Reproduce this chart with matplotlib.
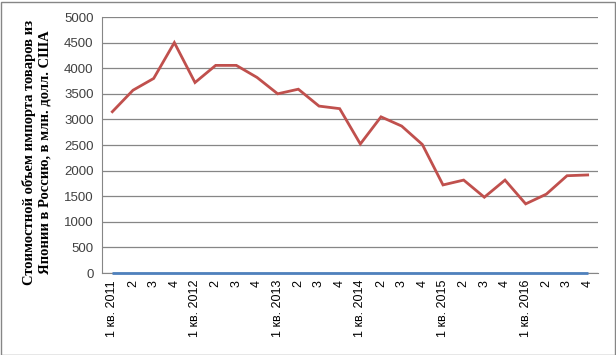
import matplotlib
matplotlib.use("Agg")
import matplotlib.pyplot as plt
from matplotlib.patches import Rectangle

# quarterly import values, mln USD
years = [2011, 2012, 2013, 2014, 2015, 2016]
japan_import = [3150, 3570, 3800, 4500, 3720, 4055, 4055, 3820,
                3500, 3590, 3260, 3210, 2520, 3050, 2870, 2510,
                1720, 1815, 1480, 1815, 1350, 1540, 1900, 1915]
second_series = [0] * 24

labels = []
for y in years:
    labels += ["1 кв. %d" % y, "2", "3", "4"]

fig = plt.figure(figsize=(6.16, 3.55), dpi=100)
ax = fig.add_axes([102/616, 1 - 273/355, 496/616, 256/355])

x = list(range(len(japan_import)))
ax.plot(x, second_series, color="#4F81BD", lw=2.0, solid_capstyle="butt", zorder=3, clip_on=False)
ax.plot(x, japan_import, color="#C0504D", lw=2.0, solid_joinstyle="miter", zorder=4)

ax.set_xlim(-0.5, 23.5)
ax.set_ylim(0, 5000)
ax.set_yticks(range(0, 5001, 500))
ax.set_xticks(x)
ax.set_xticklabels(labels, rotation=90, fontsize=9, family="Liberation Sans")
ax.tick_params(axis="y", labelsize=9.5, colors="#404040", length=0, pad=6)
ax.tick_params(axis="x", length=0, pad=5, colors="black")
for t in ax.get_yticklabels():
    t.set_family("Liberation Sans")

ax.grid(axis="y", color="#868686", lw=0.9)
ax.set_axisbelow(True)
for s in ["top", "right"]:
    ax.spines[s].set_visible(False)
ax.spines["left"].set_color("#868686")
ax.spines["bottom"].set_color("#868686")

fig.text(37/616, 1 - 152/355,
         "Стоимостной объем импорта товаров из\nЯпонии в Россию, в млн. долл. США",
         rotation=90, ha="center", va="center", fontsize=10.5, fontweight="bold",
         family="Liberation Serif", linespacing=1.2)

fig.patches.append(Rectangle((0.5/616, 0.5/355), 614/616, 353/355, transform=fig.transFigure,
                             fill=False, edgecolor="#868686", lw=1))

fig.savefig("out.png", dpi=100)
